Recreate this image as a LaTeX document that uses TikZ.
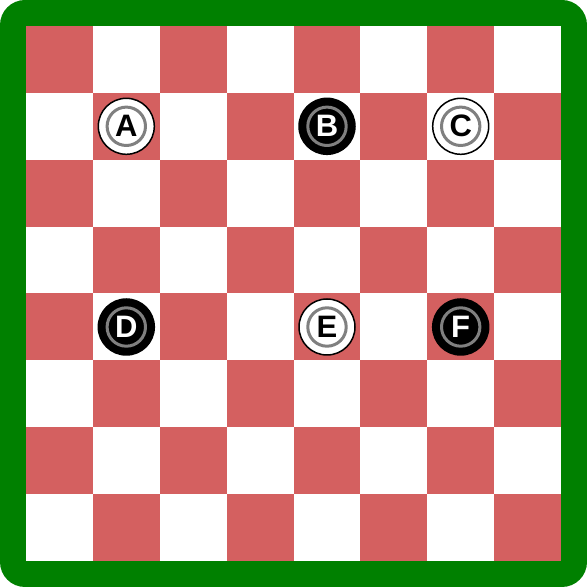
\documentclass[tikz,border=0pt]{standalone}
\usepackage{fontspec}
\setmainfont{Liberation Sans}
\definecolor{frame}{RGB}{0,128,0}
\definecolor{square}{RGB}{212,96,96}
\definecolor{ring}{RGB}{128,128,128}
\tikzset{
  piece/.style={circle,minimum size=56pt,inner sep=0pt,line width=1.5pt,draw=black,
    font=\bfseries\fontsize{31pt}{36pt}\selectfont},
  lightpiece/.style={piece,fill=white,text=black},
  darkpiece/.style={piece,fill=black,text=white},
  groove/.style={draw=ring,line width=3pt}
}
\begin{document}
\begin{tikzpicture}[x=1pt,y=1pt,line cap=round,line join=round]
\useasboundingbox (0,0) rectangle (587,587);
% frame and board
\path[fill=frame,rounded corners=25pt] (0,0) rectangle (587,587);
\path[fill=white] (26,26) rectangle (561,561);
\foreach \r in {0,...,7}
  \foreach \c in {0,...,7}{
    \pgfmathparse{int(mod(\r+\c,2))}
    \ifnum\pgfmathresult=0
      \path[fill=square] (26+\c*66.875,561-\r*66.875) rectangle +(66.875,-66.875);
    \fi
  }
% pieces
\node[lightpiece] (A) at (126.3,460.7) {A};
\node[darkpiece]  (B) at (327.0,460.7) {B};
\node[lightpiece] (C) at (460.7,460.7) {C};
\node[darkpiece]  (D) at (126.3,260.0) {D};
\node[lightpiece] (E) at (327.0,260.0) {E};
\node[darkpiece]  (F) at (460.7,260.0) {F};
\foreach \p in {A,B,C,D,E,F}
  \draw[groove] (\p.center) circle[radius=19.2];
\end{tikzpicture}
\end{document}
